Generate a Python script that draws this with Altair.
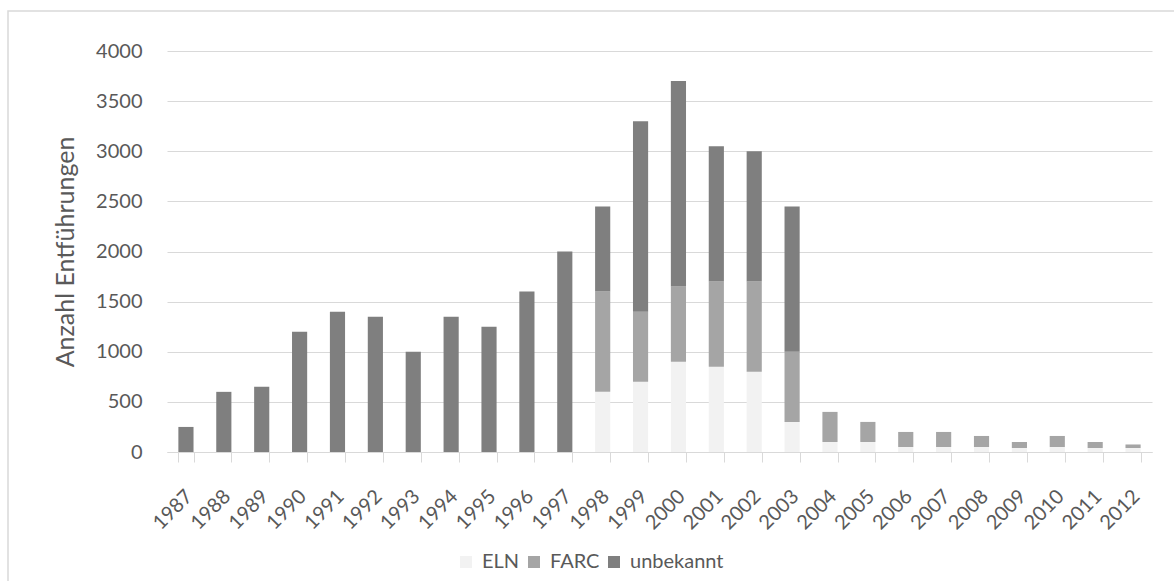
import altair as alt
import pandas as pd

# Kidnappings in Colombia per year, split by perpetrator group
years = [str(y) for y in range(1987, 2013)]
eln = [0, 0, 0, 0, 0, 0, 0, 0, 0, 0, 0,
       600, 700, 900, 850, 800, 300,
       100, 100, 50, 50, 50, 40, 50, 40, 40]
farc = [0, 0, 0, 0, 0, 0, 0, 0, 0, 0, 0,
        1000, 700, 750, 850, 900, 700,
        300, 200, 150, 150, 110, 60, 110, 60, 35]
unbekannt = [250, 600, 650, 1200, 1400, 1350, 1000, 1350, 1250, 1600, 2000,
             850, 1900, 2050, 1350, 1300, 1450,
             0, 0, 0, 0, 0, 0, 0, 0, 0]

groups = ["ELN", "FARC", "unbekannt"]
colors = ["#f2f2f2", "#a5a5a5", "#7f7f7f"]
y_ticks = list(range(0, 4001, 500))

rows = []
for i, yr in enumerate(years):
    for k, (name, vals) in enumerate(zip(groups, [eln, farc, unbekannt])):
        rows.append({"Jahr": yr, "Gruppe": name, "Anzahl": vals[i], "Reihe": k})
df = pd.DataFrame(rows)

FONT = "Lato"
TXT = "#595959"
GRID = "#d9d9d9"

bars = alt.Chart(df).mark_bar().encode(
    x=alt.X(
        "Jahr:N",
        sort=years,
        scale=alt.Scale(paddingInner=0.6, paddingOuter=0.3),
        axis=alt.Axis(
            title=None,
            labelAngle=-45,
            labelAlign="right",
            labelBaseline="top",
            labelPadding=24,
            labelOffset=-4,
            labelFontSize=20,
            labelColor=TXT,
            labelFont=FONT,
            tickBand="extent",
            tickSize=10,
            tickColor=GRID,
            domainColor=GRID,
            grid=False,
        ),
    ),
    y=alt.Y(
        "Anzahl:Q",
        scale=alt.Scale(domain=[0, 4000], nice=False),
        axis=alt.Axis(
            title="Anzahl Entführungen",
            values=y_ticks,
            format="d",
            labelFontSize=20,
            labelColor=TXT,
            labelFont=FONT,
            labelPadding=25,
            ticks=False,
            domain=False,
            gridColor=GRID,
            titleFontSize=25,
            titleFont=FONT,
            titleColor=TXT,
            titleFontWeight="normal",
            titlePadding=17,
        ),
    ),
    color=alt.Color(
        "Gruppe:N",
        scale=alt.Scale(domain=groups, range=colors),
        legend=alt.Legend(
            title=None,
            orient="none",
            direction="horizontal",
            legendX=289,
            legendY=501,
            symbolType="square",
            symbolSize=144,
            symbolStrokeWidth=0,
            labelFontSize=20,
            labelFont=FONT,
            labelColor=TXT,
            labelOffset=6,
            columnPadding=4,
            padding=0,
        ),
    ),
    order=alt.Order("Reihe:Q", sort="ascending"),
)

# light frame around the whole figure
frame = alt.Chart(pd.DataFrame({"f": [0]})).mark_rect(
    fill=None, stroke=GRID, strokeWidth=1.5, clip=False
).encode(
    x=alt.value(-159),
    y=alt.value(-40),
    x2=alt.value(1030),
    y2=alt.value(560),
)

chart = alt.layer(frame, bars).properties(
    width=985,
    height=401,
    padding={"left": 167, "top": 51, "right": 22, "bottom": 129},
    autosize=alt.AutoSizeParams(type="none"),
    background="white",
).configure_view(stroke=None)

chart.save("out.html", embed_options={"renderer": "svg", "actions": False})
